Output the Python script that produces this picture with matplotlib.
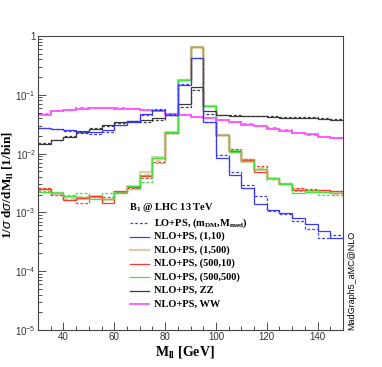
import numpy as np
import matplotlib
matplotlib.use("Agg")
import matplotlib.pyplot as plt
from matplotlib.ticker import FixedLocator, LogLocator, NullFormatter

# dilepton invariant mass, 5 GeV bins
edges = np.arange(30, 155, 5)

blue_nlo = [0.027, 0.026, 0.0252, 0.0242, 0.023, 0.025, 0.031, 0.035, 0.047, 0.056, 0.046, 0.147,
            0.42, 0.034, 0.0083, 0.0043, 0.0026, 0.0014, 0.00108, 0.00099, 0.00079, 0.00063, 0.00049, 0.00036]
blue_lo = [0.027, 0.026, 0.0245, 0.0235, 0.0215, 0.0235, 0.031, 0.034, 0.045, 0.058, 0.047, 0.15,
           0.43, 0.035, 0.0095, 0.0048, 0.0029, 0.0019, 0.00107, 0.00095, 0.00071, 0.00053, 0.00037, 0.00041]
tan_nlo = [0.0025, 0.0021, 0.0018, 0.0017, 0.0019, 0.0016, 0.0022, 0.0028, 0.0049, 0.0088, 0.023, 0.18,
           0.64, 0.064, 0.021, 0.0115, 0.0072, 0.0052, 0.0037, 0.003, 0.0025, 0.0023, 0.0023, 0.0021]
tan_lo = [0.0024, 0.0020, 0.0017, 0.0018, 0.0018, 0.0017, 0.0021, 0.0026, 0.0044, 0.0075, 0.022, 0.18,
          0.64, 0.064, 0.021, 0.0112, 0.0078, 0.0056, 0.0036, 0.0030, 0.0024, 0.0023, 0.0022, 0.0020]
red_nlo = [0.00247, 0.0021, 0.00163, 0.00173, 0.00187, 0.00146, 0.0023, 0.0027, 0.0041, 0.0085, 0.0227, 0.18,
           0.64, 0.065, 0.0207, 0.0112, 0.0078, 0.0049, 0.0038, 0.003, 0.0024, 0.0024, 0.0024, 0.0023]
red_lo = [0.0026, 0.0020, 0.0016, 0.00144, 0.0018, 0.0018, 0.0022, 0.0026, 0.0038, 0.0072, 0.022, 0.18,
          0.64, 0.064, 0.021, 0.0118, 0.0082, 0.0062, 0.0039, 0.0031, 0.0026, 0.0025, 0.0024, 0.0023]
green_nlo = [0.0022, 0.0021, 0.00187, 0.0018, 0.00168, 0.0017, 0.0021, 0.0028, 0.0043, 0.0085, 0.023, 0.18,
             0.64, 0.065, 0.0207, 0.0108, 0.0076, 0.0054, 0.0038, 0.0031, 0.0021, 0.0022, 0.0022, 0.0021]
green_lo = [0.0023, 0.0022, 0.0020, 0.0021, 0.0018, 0.0021, 0.0022, 0.0025, 0.0033, 0.0068, 0.022, 0.18,
            0.64, 0.064, 0.021, 0.0116, 0.0081, 0.0055, 0.0039, 0.0032, 0.0023, 0.0024, 0.0020, 0.0020]
zz_nlo = [0.0144, 0.017, 0.0194, 0.0236, 0.026, 0.0306, 0.034, 0.036, 0.038, 0.040, 0.0448, 0.069,
          0.134, 0.053, 0.045, 0.044, 0.0435, 0.043, 0.042, 0.041, 0.041, 0.040, 0.039, 0.038]
zz_lo = [0.0150, 0.0172, 0.0196, 0.0228, 0.0270, 0.0300, 0.0335, 0.0355, 0.0345, 0.037, 0.045, 0.063,
         0.120, 0.048, 0.046, 0.046, 0.044, 0.044, 0.043, 0.042, 0.042, 0.0415, 0.040, 0.039]
ww_nlo = [0.045, 0.052, 0.055, 0.057, 0.059, 0.059, 0.058, 0.057, 0.055, 0.053, 0.047, 0.045,
          0.042, 0.040, 0.037, 0.034, 0.031, 0.029, 0.026, 0.0245, 0.0227, 0.0213, 0.0195, 0.0186]
ww_lo = [0.047, 0.052, 0.056, 0.059, 0.060, 0.060, 0.059, 0.057, 0.055, 0.052, 0.048, 0.046,
         0.042, 0.040, 0.037, 0.035, 0.032, 0.029, 0.027, 0.025, 0.0225, 0.021, 0.0195, 0.0182]

labels = [r"NLO+PS, (1,10)", r"NLO+PS, (1,500)", r"NLO+PS, (500,10)",
          r"NLO+PS, (500,500)", r"NLO+PS, ZZ", r"NLO+PS, WW"]

plt.rcParams.update({
    "font.family": "Liberation Sans",
    "mathtext.fontset": "custom",
    "mathtext.rm": "Liberation Sans",
    "mathtext.it": "Liberation Sans:italic",
    "mathtext.bf": "Liberation Serif:bold",
})

fig = plt.figure(figsize=(3.82, 3.67), dpi=100)
ax = fig.add_axes([38 / 382, 37 / 367, 305 / 382, 294 / 367])

samples = [
    (tan_nlo, tan_lo, "#e3c9a8", 1.6, 0.9),
    (red_nlo, red_lo, "#ff3b2f", 0.9, 1.0),
    (green_nlo, green_lo, "#3ee63e", 0.9, 1.0),
    (zz_nlo, zz_lo, "#3a3a3a", 0.9, 1.0),
    (ww_nlo, ww_lo, "#ff55ff", 1.3, 1.0),
    (blue_nlo, blue_lo, "#3a3aff", 0.9, 1.0),
]
for nlo, lo, color, lw, alpha in samples:
    ax.stairs(lo, edges, baseline=None, color=color, lw=lw, ls=(0, (2.2, 1.6)), alpha=alpha)
    ax.stairs(nlo, edges, baseline=None, color=color, lw=lw, alpha=alpha)

ax.set_yscale("log")
ax.set_xlim(30, 150)
ax.set_ylim(1e-5, 1)

ax.yaxis.set_major_locator(FixedLocator([1e-5, 1e-4, 1e-3, 1e-2, 1e-1, 1]))
ax.set_yticklabels([r"$10^{-5}$", r"$10^{-4}$", r"$10^{-3}$", r"$10^{-2}$", r"$10^{-1}$", "1"])
ax.yaxis.set_minor_locator(LogLocator(base=10, subs=np.arange(2, 10)))
ax.yaxis.set_minor_formatter(NullFormatter())
ax.set_xticks([40, 60, 80, 100, 120, 140])
ax.set_xticks(np.arange(30, 151, 5), minor=True)
ax.tick_params(which="both", direction="in", top=False, right=False, labelsize=7, colors="#333333")
ax.tick_params(which="major", length=6, width=0.6, pad=1.5)
ax.tick_params(which="minor", length=3, width=0.6)
for side in ax.spines.values():
    side.set_color("#444444")
    side.set_linewidth(0.8)

fig.text(185 / 382, 1 - 352 / 367, r"M$_{\mathbf{ll}}$ [GeV]", family="Liberation Serif",
         weight="bold", fontsize=10, ha="center", va="center")
fig.text(8 / 382, 1 - 185 / 367, r"1/$\sigma$ d$\sigma$/dM$_{\mathbf{ll}}$ [1/bin]",
         family="Liberation Serif", weight="bold", fontsize=9.5, rotation=90,
         ha="center", va="center")
fig.text(352 / 382, 1 - 330 / 367, "MadGraph5_aMC@NLO", fontsize=6.5, rotation=90,
         ha="center", va="bottom")

# legend, drawn by hand to match the ROOT layout
fig.text(129 / 382, 1 - 207 / 367, r"B$_{\mathbf{1}}$ @ LHC 13 TeV", family="Liberation Serif",
         weight="bold", fontsize=7.5, va="center")
entries = [(r"LO+PS, (m$_{\mathbf{DM}}$,M$_{\mathbf{med}}$)", "#3a3aff", 0.9, "dash")] + [
    (lab, col, lw, "solid") for lab, (_, _, col, lw, _) in zip(
        labels, [samples[5], samples[0], samples[1], samples[2], samples[3], samples[4]])]
for i, (text, color, lw, style) in enumerate(entries):
    y = 1 - (223 + 13.5 * i) / 367
    ls = (0, (2.2, 1.6)) if style == "dash" else "-"
    fig.add_artist(plt.Line2D([130 / 382, 149 / 382], [y, y], color=color, lw=lw, ls=ls))
    fig.text(154 / 382, y, text, family="Liberation Serif", weight="bold", fontsize=7.5,
             va="center")

fig.savefig("out.png", dpi=100)
